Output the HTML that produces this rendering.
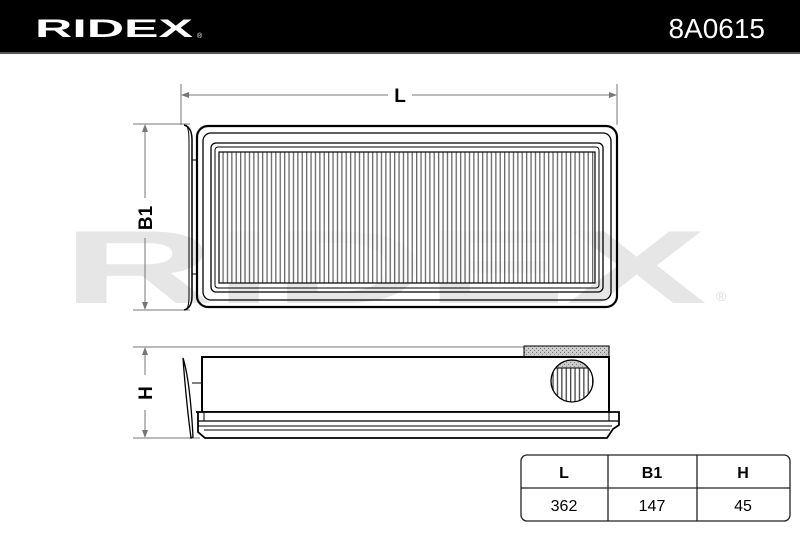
<!DOCTYPE html>
<html><head><meta charset="utf-8"><style>
html,body{margin:0;padding:0;background:#fff;}
svg{display:block;font-family:"Liberation Sans",sans-serif;}
</style></head><body>
<svg width="800" height="533" viewBox="0 0 800 533" xmlns="http://www.w3.org/2000/svg">
<defs>
<pattern id="st" x="218" y="0" width="4.4" height="10" patternUnits="userSpaceOnUse">
<rect width="4.4" height="10" fill="#fff"/><rect width="1.3" height="10" fill="#444"/>
</pattern>
<pattern id="dots" width="4" height="4" patternUnits="userSpaceOnUse">
<rect width="4" height="4" fill="#ccc"/><rect width="1" height="1" fill="#777"/><rect x="2" y="2" width="1" height="1" fill="#888"/>
</pattern>
</defs>
<rect x="0" y="0" width="800" height="53" fill="#000"/>
<rect x="0" y="52" width="800" height="2" fill="#555"/>
<text x="35" y="37" font-size="25" font-weight="bold" fill="#fff" textLength="158" lengthAdjust="spacingAndGlyphs">RIDEX</text>
<text x="197" y="38" font-size="7" fill="#fff">®</text>
<text x="765" y="38" font-size="28" fill="#fff" text-anchor="end">8A0615</text>

<!-- watermark -->
<text x="62" y="303" font-size="104" font-weight="bold" fill="#e6e6e6" textLength="645" lengthAdjust="spacingAndGlyphs">RIDEX</text>
<text x="716" y="301" font-size="14" fill="#ddd">®</text>

<g stroke="#777" stroke-width="1" fill="none">
<line x1="181" y1="84" x2="181" y2="125"/>
<line x1="617" y1="84" x2="617" y2="125"/>
<line x1="183" y1="95" x2="388" y2="95"/>
<line x1="412" y1="95" x2="615" y2="95"/>
<line x1="133" y1="124" x2="190" y2="124"/>
<line x1="133" y1="310" x2="190" y2="310"/>
<line x1="145" y1="126" x2="145" y2="198"/>
<line x1="145" y1="238" x2="145" y2="308"/>
<line x1="133" y1="347" x2="610" y2="347"/>
<line x1="133" y1="438" x2="200" y2="438"/>
<line x1="145" y1="349" x2="145" y2="375"/>
<line x1="145" y1="410" x2="145" y2="436"/>
</g>
<g fill="#777">
<path d="M181 95 l8 -3 v6z"/><path d="M617 95 l-8 -3 v6z"/>
<path d="M145 124 l-3 8 h6z"/><path d="M145 310 l-3 -8 h6z"/>
<path d="M145 347 l-3 8 h6z"/><path d="M145 438 l-3 -8 h6z"/>
</g>
<text x="400" y="102" font-size="19" font-weight="bold" text-anchor="middle" fill="#000">L</text>
<text transform="translate(152,218) rotate(-90)" font-size="19" font-weight="bold" text-anchor="middle" fill="#000">B1</text>
<text transform="translate(152,393) rotate(-90)" font-size="19" font-weight="bold" text-anchor="middle" fill="#000">H</text>

<g fill="none" stroke="#000">
<path d="M184 125 Q192 127 192 140 V296 Q192 308 184 310" stroke-width="1.5"/>
<path d="M186 125 Q189 128 189 140 V296 Q189 307 186 310" stroke-width="1"/>
<line x1="192" y1="160" x2="198" y2="160"/><line x1="192" y1="274" x2="198" y2="274"/>
<rect x="197" y="126" width="420" height="181" rx="11" stroke-width="2.2"/>
<rect x="203" y="133" width="408" height="167" rx="8" stroke-width="1.3"/>
<rect x="211" y="143" width="392" height="149" rx="5" stroke-width="1.3"/>
<rect x="215" y="147" width="384" height="141" rx="3" stroke-width="1"/>
</g>
<rect x="219" y="152" width="376" height="131" fill="url(#st)" opacity="0.8"/>
<rect x="219" y="152" width="376" height="131" fill="none" stroke="#000" stroke-width="1.2"/>

<rect x="524" y="346" width="85" height="11" fill="url(#dots)" stroke="#000" stroke-width="1"/>
<g fill="none" stroke="#000">
<path d="M183 358 Q190 380 193 437 L191 438 Q186 400 183 358z" stroke-width="1.3" fill="#fff"/>
<line x1="192" y1="383" x2="202" y2="383"/>
<rect x="202" y="357" width="407" height="55" stroke-width="2" fill="#fff"/>
</g>
<clipPath id="cc"><circle cx="572" cy="381" r="21"/></clipPath>
<g clip-path="url(#cc)">
<rect x="550" y="358" width="45" height="10" fill="url(#dots)"/>
<rect x="550" y="368" width="45" height="40" fill="url(#st)"/>
<line x1="550" y1="368" x2="595" y2="368" stroke="#000"/>
</g>
<circle cx="572" cy="381" r="21" fill="none" stroke="#000" stroke-width="1.3"/>
<g fill="#fff" stroke="#000">
<path d="M196 412 H619 V425 L613 429 L607 438 H205 L198 432 V412z" stroke-width="1.8"/>
<line x1="198" y1="421" x2="619" y2="421" stroke-width="1.2"/>
<line x1="198" y1="426" x2="612" y2="426" stroke-width="1"/>
<line x1="204" y1="430" x2="610" y2="430" stroke-width="1"/>
<line x1="204" y1="412" x2="204" y2="421"/><line x1="609" y1="412" x2="609" y2="421"/>
</g>

<g fill="none" stroke="#222" stroke-width="1.3">
<rect x="521" y="455" width="269" height="66" rx="6"/>
<line x1="521" y1="488" x2="790" y2="488"/>
<line x1="608" y1="455" x2="608" y2="521"/>
<line x1="697" y1="455" x2="697" y2="521"/>
</g>
<g font-size="16" text-anchor="middle" fill="#000">
<text x="564" y="478" font-weight="bold">L</text>
<text x="652" y="478" font-weight="bold">B1</text>
<text x="743" y="478" font-weight="bold">H</text>
<text x="564" y="511">362</text>
<text x="652" y="511">147</text>
<text x="743" y="511">45</text>
</g>
</svg>
</body></html>
